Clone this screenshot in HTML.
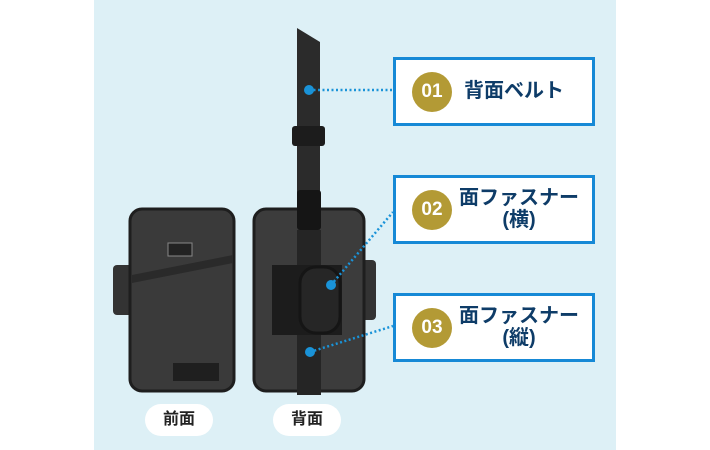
<!DOCTYPE html>
<html><head><meta charset="utf-8"><style>
body{margin:0;width:710px;height:450px;background:#fff;position:relative;overflow:hidden;font-family:"Liberation Sans","Noto Sans CJK JP",sans-serif}
.bg{position:absolute;left:94px;top:0;width:522px;height:450px;background:#ddf0f6}
.box{position:absolute;left:393px;width:196px;background:#fff;border:3px solid #1689d6}
.c{position:absolute;left:16px;width:40px;height:40px;border-radius:50%;background:#b39a35;color:#fff;font-weight:bold;font-size:19px;text-align:center;line-height:40px;font-family:"Liberation Sans Narrow","Liberation Sans",sans-serif}
.t{position:absolute;left:66px;color:#0e3c68;font-weight:bold;font-size:20px;line-height:22px;text-align:center}
.pill{position:absolute;width:68px;height:32px;border-radius:16px;background:#fff;text-align:center;line-height:32px;font-size:16px;font-weight:bold;color:#222}
</style></head><body>
<div class="bg"></div>
<svg width="710" height="450" style="position:absolute;left:0;top:0">
<rect x="113" y="265" width="20" height="50" rx="4" fill="#333"/>
<rect x="130" y="209" width="104" height="182" rx="12" fill="#3a3a3a" stroke="#1e1e1e" stroke-width="3"/>
<path d="M132 275 L233 255 L233 263 L132 283Z" fill="#2a2a2a"/>
<rect x="168" y="243" width="24" height="13" fill="#222" stroke="#888" stroke-width="1"/>
<rect x="173" y="363" width="46" height="18" fill="#1f1f1f"/>
<rect x="360" y="260" width="16" height="60" rx="4" fill="#333"/>
<polygon points="297,28 320,42 320,200 297,200" fill="#2b2b2b"/>
<rect x="292" y="126" width="33" height="20" rx="3" fill="#1c1c1c"/>
<rect x="254" y="209" width="110" height="182" rx="12" fill="#3c3c3c" stroke="#1e1e1e" stroke-width="3"/>
<rect x="297" y="190" width="24" height="40" rx="3" fill="#151515"/>
<rect x="297" y="230" width="24" height="165" fill="#252525"/>
<rect x="272" y="265" width="70" height="70" fill="#1c1c1c"/>
<rect x="300" y="267" width="40" height="66" rx="16" fill="#262626" stroke="#151515" stroke-width="3"/>
<g stroke="#1a93d8" stroke-width="2.5" stroke-dasharray="2,2.5" fill="none">
<line x1="309" y1="90" x2="393" y2="90"/>
<line x1="331" y1="285" x2="393" y2="212"/>
<line x1="310" y1="352" x2="393" y2="326"/>
</g>
<g fill="#1a93d8"><circle cx="309" cy="90" r="5"/><circle cx="331" cy="285" r="5"/><circle cx="310" cy="352" r="5"/></g>
</svg>
<div class="box" style="top:57px;height:63px"><div class="c" style="top:12px">01</div><div class="t" style="top:20px;left:68px">背面ベルト</div></div>
<div class="box" style="top:175px;height:63px"><div class="c" style="top:12px">02</div><div class="t" style="top:9px;left:63px">面ファスナー<br>(横)</div></div>
<div class="box" style="top:293px;height:63px"><div class="c" style="top:12px">03</div><div class="t" style="top:9px;left:63px">面ファスナー<br>(縦)</div></div>
<div class="pill" style="left:145px;top:404px">前面</div>
<div class="pill" style="left:273px;top:404px">背面</div>
</body></html>
